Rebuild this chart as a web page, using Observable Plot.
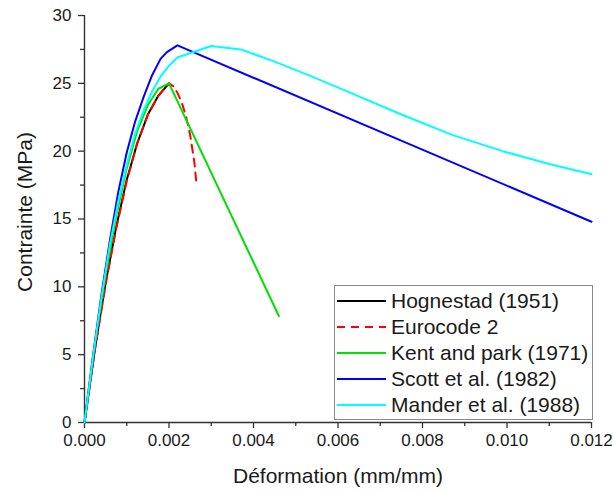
<!DOCTYPE html>
<html>
<head>
<meta charset="utf-8">
<script src="https://cdn.jsdelivr.net/npm/d3@7"></script>
<script src="https://cdn.jsdelivr.net/npm/@observablehq/plot@0.6"></script>
<style>
  html, body { margin: 0; padding: 0; background: #fff; }
  #wrap { position: relative; width: 613px; height: 490px; font-family: "Liberation Sans", Arial, sans-serif; }
  #legend { position: absolute; left: 334px; top: 285px; width: 257px; height: 133px; border: 1px solid #8a8a8a; background: #fff; }
  .row { position: absolute; left: 0; height: 26px; display: flex; align-items: center; }
  .row svg { margin-left: 2px; }
  .row span { margin-left: 5px; font-size: 21px; color: #1a1a1a; white-space: nowrap; }
</style>
</head>
<body>
<div id="wrap"></div>
<script>
// Series names and styles
const seriesNames = ["Hognestad (1951)", "Eurocode 2", "Kent and park (1971)", "Scott et al. (1982)", "Mander et al. (1988)"];
const seriesColors = ["#000000", "#ff0000", "#00e000", "#0000ff", "#00ffff"];
const seriesDash = [null, "8,6", null, null, null];

// Axis titles
const xTitle = "Déformation (mm/mm)";
const yTitle = "Contrainte (MPa)";

// Hognestad (1951)
const hognestadStrain = [0, 0.00025, 0.0005, 0.00075, 0.001, 0.00125, 0.0015, 0.00175, 0.002];
const hognestadStress = [0, 5.5, 10.3, 14.4, 17.9, 20.6, 22.7, 24.1, 25.0];

// Eurocode 2
const eurocodeStrain = [0, 0.00025, 0.0005, 0.00075, 0.001, 0.00125, 0.0015, 0.00175, 0.002, 0.0021, 0.0022, 0.0023, 0.0024, 0.0025, 0.0026, 0.00265];
const eurocodeStress = [0, 5.4, 10.2, 14.3, 17.8, 20.6, 22.7, 24.1, 25.0, 24.8, 24.3, 23.6, 22.6, 21.2, 19.2, 17.6];

// Kent and Park (1971)
const kentStrain = [0, 0.00025, 0.0005, 0.00075, 0.001, 0.00125, 0.0015, 0.00175, 0.002, 0.0046];
const kentStress = [0, 5.9, 10.9, 15.2, 18.75, 21.5, 23.4, 24.6, 25.0, 7.85];

// Scott et al. (1982)
const scottStrain = [0, 0.0002, 0.0004, 0.0006, 0.0008, 0.001, 0.0012, 0.0014, 0.0016, 0.0018, 0.00195, 0.0022, 0.012];
const scottStress = [0, 4.9, 9.4, 13.4, 17.0, 19.9, 22.2, 24.0, 25.6, 26.8, 27.3, 27.8, 14.8];

// Mander et al. (1988)
const manderStrain = [0, 0.0002, 0.0004, 0.0006, 0.0008, 0.001, 0.0012, 0.0014, 0.0016, 0.0018, 0.002, 0.0022, 0.003, 0.0037, 0.0045, 0.0053, 0.0063, 0.0075, 0.0087, 0.0099, 0.011, 0.012];
const manderStress = [0, 4.8, 9.2, 13.1, 16.3, 19.0, 21.3, 23.0, 24.4, 25.5, 26.3, 26.9, 27.75, 27.5, 26.6, 25.6, 24.3, 22.7, 21.2, 20.0, 19.05, 18.3];

// Axis ticks
const xMajorTicks = [0, 0.002, 0.004, 0.006, 0.008, 0.010, 0.012];
const xMinorTicks = [0.001, 0.003, 0.005, 0.007, 0.009, 0.011];
const yMajorTicks = [0, 5, 10, 15, 20, 25, 30];
const yMinorTicks = [2.5, 7.5, 12.5, 17.5, 22.5, 27.5];

const strains = [hognestadStrain, eurocodeStrain, kentStrain, scottStrain, manderStrain];
const stresses = [hognestadStress, eurocodeStress, kentStress, scottStress, manderStress];

const series = seriesNames.map((name, i) => ({
  name,
  color: seriesColors[i],
  dash: seriesDash[i],
  data: strains[i].map((x, j) => ({x, y: stresses[i][j]}))
}));

const axisColor = "#333";
const textColor = "#1a1a1a";

const chart = Plot.plot({
  width: 613,
  height: 490,
  marginLeft: 84,
  marginRight: 22,
  marginTop: 15,
  marginBottom: 68,
  style: { fontFamily: '"Liberation Sans", Arial, sans-serif', fontSize: "17px", color: textColor, background: "#fff" },
  x: { domain: [0, 0.012] },
  y: { domain: [0, 30] },
  marks: [
    Plot.axisX(xMinorTicks, { tickSize: 4, tickFormat: () => "", stroke: axisColor, strokeWidth: 1.3, label: null }),
    Plot.axisX(xMajorTicks, { tickSize: 6, tickPadding: 5, tickFormat: d3.format(".3f"), stroke: axisColor, strokeWidth: 1.3, fill: textColor, fontSize: 17, label: null }),
    Plot.axisY(yMinorTicks, { tickSize: 4, tickFormat: () => "", stroke: axisColor, strokeWidth: 1.3, label: null }),
    Plot.axisY(yMajorTicks, { tickSize: 6, tickPadding: 7, tickFormat: d3.format("d"), stroke: axisColor, strokeWidth: 1.3, fill: textColor, fontSize: 17, label: null }),
    Plot.text([xTitle], { frameAnchor: "bottom", textAnchor: "middle", lineAnchor: "bottom", dy: 60, fontSize: 21, fill: textColor }),
    Plot.text([yTitle], { frameAnchor: "left", textAnchor: "middle", lineAnchor: "bottom", rotate: -90, dx: -53, dy: -7, fontSize: 21, fill: textColor }),
    Plot.ruleX([0], { stroke: axisColor, strokeWidth: 1.4 }),
    Plot.ruleY([0], { stroke: axisColor, strokeWidth: 1.4 }),
    ...series.map(s => Plot.line(s.data, { x: "x", y: "y", stroke: s.color, strokeWidth: 2, strokeDasharray: s.dash, strokeLinejoin: "round" }))
  ]
});

const wrap = document.getElementById("wrap");
wrap.appendChild(chart);

// Legend inside the plot frame
const legend = document.createElement("div");
legend.id = "legend";
series.forEach((s, i) => {
  const row = document.createElement("div");
  row.className = "row";
  row.style.top = (2 + i * 26.1) + "px";
  row.innerHTML = `<svg width="49" height="4"><line x1="0" y1="2" x2="49" y2="2" stroke="${s.color}" stroke-width="2" ${s.dash ? `stroke-dasharray="${s.dash}"` : ""}/></svg><span>${s.name}</span>`;
  legend.appendChild(row);
});
wrap.appendChild(legend);
</script>
</body>
</html>
